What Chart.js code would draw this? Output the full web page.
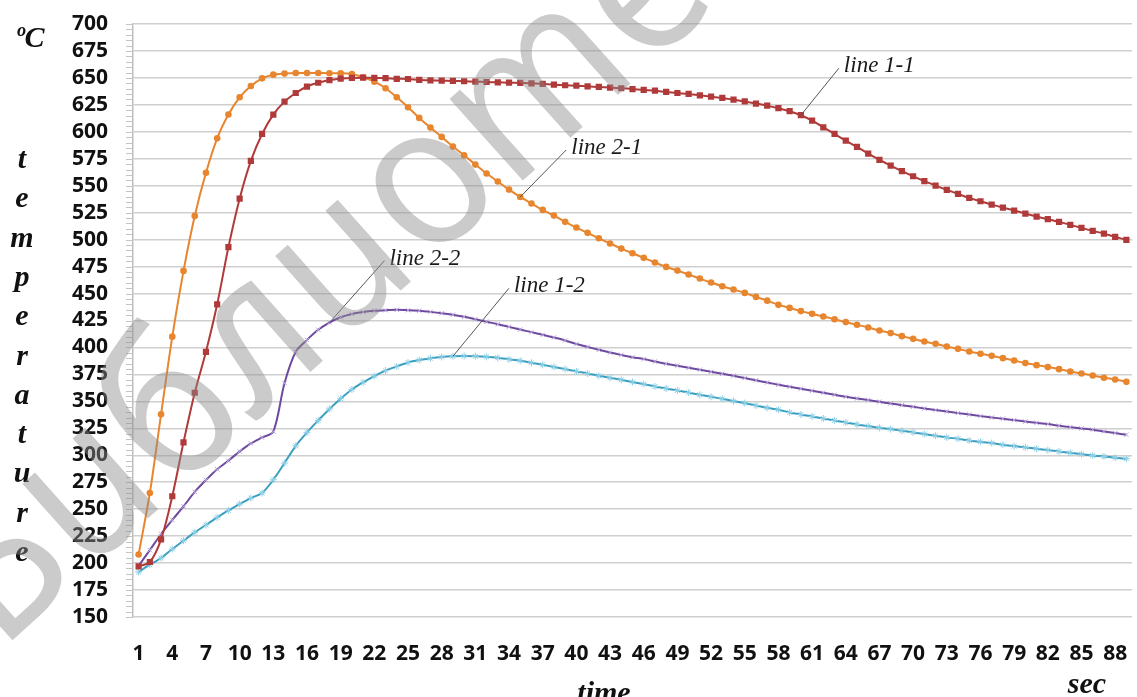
<!DOCTYPE html>
<html>
<head>
<meta charset="utf-8">
<script src="https://cdn.jsdelivr.net/npm/chart.js@4"></script>
<style>
  html, body { margin: 0; padding: 0; background: #fff; }
  #wrap { width: 1137px; height: 697px; position: relative; }
</style>
</head>
<body>
<div id="wrap"><canvas id="tempChart"></canvas></div>
<script>
// time axis: seconds 1..89, labelled every 3rd
const seconds = Array.from({ length: 89 }, (_, i) => String(i + 1));
const labelEvery = 3;

// y axis range (°C)
const yMin = 150, yMax = 700, yStep = 25, yMinorStep = 5;

// line 1-1 (dark red, squares)
const line11 = [197, 201, 222, 262, 312, 358, 396, 440, 493, 538,
  573, 598, 616, 628, 636, 642, 645.5, 648, 649.3, 650,
  650.2, 650, 649.7, 649.2, 649, 648.1, 647.8, 647.4, 647.2, 646.9,
  646.5, 646.2, 645.9, 645.6, 645.3, 645, 644.4, 643.7, 643.2, 642.8,
  642.2, 641.6, 641, 640.4, 639.7, 638.8, 638.2, 637, 636, 635.1,
  633.9, 632.6, 631.4, 629.8, 628.2, 626.2, 624.3, 621.9, 619.1, 615.4,
  610.4, 604.2, 598, 591.8, 586, 579.8, 573.9, 568.7, 563.5, 558.8,
  554.2, 550.1, 546.1, 542.4, 538.7, 535.6, 532.5, 529.7, 527, 524.2,
  521.4, 519, 516.5, 513.7, 510.9, 508.1, 505.6, 502.6, 499.8];

// line 2-1 (orange, circles)
const line21 = [208, 265, 338, 410, 471, 522, 562, 594, 616, 632,
  642.5, 649.6, 653, 654, 654.6, 654.6, 654.6, 654.3, 654.3, 653.6,
  650.6, 646.5, 640.4, 632, 622.8, 612.9, 603.9, 595.3, 586.3, 578.3,
  569.6, 561.3, 553.9, 546.4, 539.6, 533.5, 527.6, 522.3, 516.5, 511.2,
  506.3, 501.3, 496.4, 491.7, 487.4, 483.1, 478.8, 474.7, 471.3, 467.6,
  463.9, 460.2, 456.8, 453.7, 450.6, 446.9, 443.4, 439.5, 436.7, 433.7,
  431.2, 428.7, 426.2, 423.5, 421, 418.5, 415.7, 413.3, 410.5, 408,
  405.5, 403.4, 400.9, 398.7, 396.2, 394.1, 392.2, 390.1, 387.9, 385.5,
  383.6, 381.8, 379.9, 377.7, 375.8, 374, 371.9, 370.3, 368.1];

// line 2-2 (purple, x markers)
const line22 = [197.6, 212, 227, 240, 252.6, 266, 277, 287, 295, 303.5,
  311, 316.5, 322, 367, 396, 407, 416.4, 423, 428, 431,
  432.8, 434, 434.6, 434.9, 434.6, 434, 433, 431.8, 430.3, 428.4,
  426.2, 423.8, 421.6, 419.1, 416.6, 414.2, 411.7, 409.2, 406.5, 403.2,
  400.5, 397.8, 395.3, 393.1, 391, 389.2, 387, 384.8, 383, 381.1,
  379.3, 377.4, 375.6, 373.7, 371.6, 369.5, 367.5, 365.4, 363.5, 361.7,
  359.8, 358, 356.1, 354.2, 352.7, 351.2, 349.6, 348, 346.5, 345,
  343.4, 341.9, 340.6, 339.1, 337.8, 336.3, 335, 333.9, 332.6, 331.3,
  330.1, 328.9, 327.4, 326.1, 324.9, 323.7, 322.1, 320.6, 319];

// line 1-2 (teal, star markers)
const line12 = [191.7, 198.5, 204.7, 213, 220.8, 228.5, 235.3, 242.4, 248.9, 254.8,
  260.3, 265, 277.3, 292.8, 308.8, 321.2, 332.3, 343, 352.5, 361,
  367.6, 373.5, 378.5, 382.4, 386, 388.3, 390, 391.2, 391.8, 392,
  391.8, 391.3, 390.4, 389, 387.6, 385.8, 383.9, 381.9, 379.9, 377.8,
  375.9, 373.7, 371.9, 370, 367.9, 366, 363.8, 361.9, 360.1, 358.2,
  356.1, 354.2, 352.4, 350.3, 348.4, 346.2, 344, 342.2, 339.7, 337.8,
  336, 334.1, 332.3, 330.4, 328.6, 327.1, 325.5, 324.3, 322.7, 321.2,
  319.7, 318.1, 316.5, 315.3, 313.7, 312.5, 311.3, 309.7, 308.5, 307.3,
  306, 304.8, 303.5, 302.3, 301.1, 299.8, 298.9, 297.7, 296.8];

// callouts: dataset index, point index, leader offset, text
const callouts = [
  { ds: 0, i: 59, dx: 38, dy: -47, text: 'line 1-1' },
  { ds: 1, i: 34, dx: 46, dy: -47, text: 'line 2-1' },
  { ds: 2, i: 17, dx: 55, dy: -62, text: 'line 2-2' },
  { ds: 3, i: 28, dx: 56, dy: -68, text: 'line 1-2' }
];

const yTitleLetters = ['t', 'e', 'm', 'p', 'e', 'r', 'a', 't', 'u', 'r', 'e'];

const serif = '"Liberation Serif", "Times New Roman", serif';
const sans = '"Open Sans", "Liberation Sans", sans-serif';

// minor ticks, titles, callouts and the watermark
const decorations = {
  id: 'decorations',
  afterDraw(chart) {
    const ctx = chart.ctx;
    const y = chart.scales.y;
    const left = chart.chartArea.left;

    ctx.save();
    ctx.strokeStyle = '#c4c4c4';
    ctx.lineWidth = 1;
    for (let v = yMin; v <= yMax; v += yMinorStep) {
      const py = Math.round(y.getPixelForValue(v)) + 0.5;
      ctx.beginPath();
      ctx.moveTo(left - 7, py);
      ctx.lineTo(left, py);
      ctx.stroke();
    }

    // callouts
    ctx.strokeStyle = '#555';
    ctx.lineWidth = 1;
    ctx.fillStyle = '#1a1a1a';
    ctx.font = 'italic 23px ' + serif;
    ctx.textBaseline = 'middle';
    ctx.textAlign = 'left';
    callouts.forEach(c => {
      const pt = chart.getDatasetMeta(c.ds).data[c.i];
      ctx.beginPath();
      ctx.moveTo(pt.x, pt.y);
      ctx.lineTo(pt.x + c.dx, pt.y + c.dy);
      ctx.stroke();
      ctx.fillText(c.text, pt.x + c.dx + 5, pt.y + c.dy - 2);
    });

    // axis titles
    ctx.fillStyle = '#111';
    ctx.font = 'italic bold 30px ' + serif;
    ctx.textAlign = 'center';
    ctx.textBaseline = 'alphabetic';
    ctx.fillText('ºC', 30, 47);
    yTitleLetters.forEach((ch, k) => ctx.fillText(ch, 22, 168 + k * 39.3));
    ctx.fillText('time', 604, 702);
    ctx.fillText('sec', 1087, 693);

    // watermark (cursive forms, slant removed)
    ctx.translate(6, 646);
    ctx.rotate(-42 * Math.PI / 180);
    ctx.transform(1, 0, 0.21, 1, 0, 0);
    ctx.font = 'italic 205px "Open Sans", "Noto Sans", sans-serif';
    ctx.fillStyle = 'rgba(140,140,140,0.45)';
    ctx.textAlign = 'left';
    ctx.fillText('Библиотека', 0, 0);
    ctx.restore();
  }
};

new Chart(document.getElementById('tempChart'), {
  type: 'line',
  data: {
    labels: seconds,
    datasets: [
      {
        label: 'line 1-1', data: line11,
        borderColor: '#b03a3a', backgroundColor: '#b03a3a',
        borderWidth: 2, pointStyle: 'rect', pointRadius: 4.4, pointBorderWidth: 0
      },
      {
        label: 'line 2-1', data: line21,
        borderColor: '#e8862f', backgroundColor: '#e8862f',
        borderWidth: 2, pointStyle: 'circle', pointRadius: 3.3, pointBorderWidth: 0
      },
      {
        label: 'line 2-2', data: line22,
        borderColor: '#6e4a9e', backgroundColor: '#b9a4dc',
        pointBorderColor: '#b9a4dc',
        borderWidth: 2, pointStyle: 'crossRot', pointRadius: 3.2, pointBorderWidth: 1
      },
      {
        label: 'line 1-2', data: line12,
        borderColor: '#3a9fbf', backgroundColor: '#8fd0e6',
        pointBorderColor: '#8fd0e6',
        borderWidth: 2, pointStyle: 'star', pointRadius: 3.5, pointBorderWidth: 1
      }
    ]
  },
  options: {
    responsive: true,
    maintainAspectRatio: false,
    animation: false,
    events: [],
    layout: { padding: { top: 24, right: 3, left: 0, bottom: 0 } },
    elements: { line: { tension: 0.3 } },
    plugins: {
      legend: { display: false },
      tooltip: { enabled: false }
    },
    scales: {
      x: {
        offset: true,
        grid: { display: false },
        border: { display: false },
        ticks: {
          autoSkip: false,
          maxRotation: 0,
          padding: 16,
          color: '#111',
          font: { family: sans, size: 21, weight: 'bold' },
          callback: function (value, index) {
            return index % labelEvery === 0 ? this.getLabelForValue(value) : null;
          }
        },
        afterFit: s => { s.height = 80; s.paddingLeft = 0; s.paddingRight = 0; }
      },
      y: {
        min: yMin,
        max: yMax,
        grid: { color: '#cfcfcf', lineWidth: 1.5, drawTicks: false },
        border: { display: true, color: '#bdbdbd', width: 1.5 },
        ticks: {
          stepSize: yStep,
          autoSkip: false,
          maxTicksLimit: 40,
          padding: 25,
          color: '#111',
          font: { family: sans, size: 21, weight: 'bold' }
        },
        afterFit: s => { s.width = 133; s.paddingTop = 0; s.paddingBottom = 0; }
      }
    }
  },
  plugins: [decorations]
});
</script>
</body>
</html>
